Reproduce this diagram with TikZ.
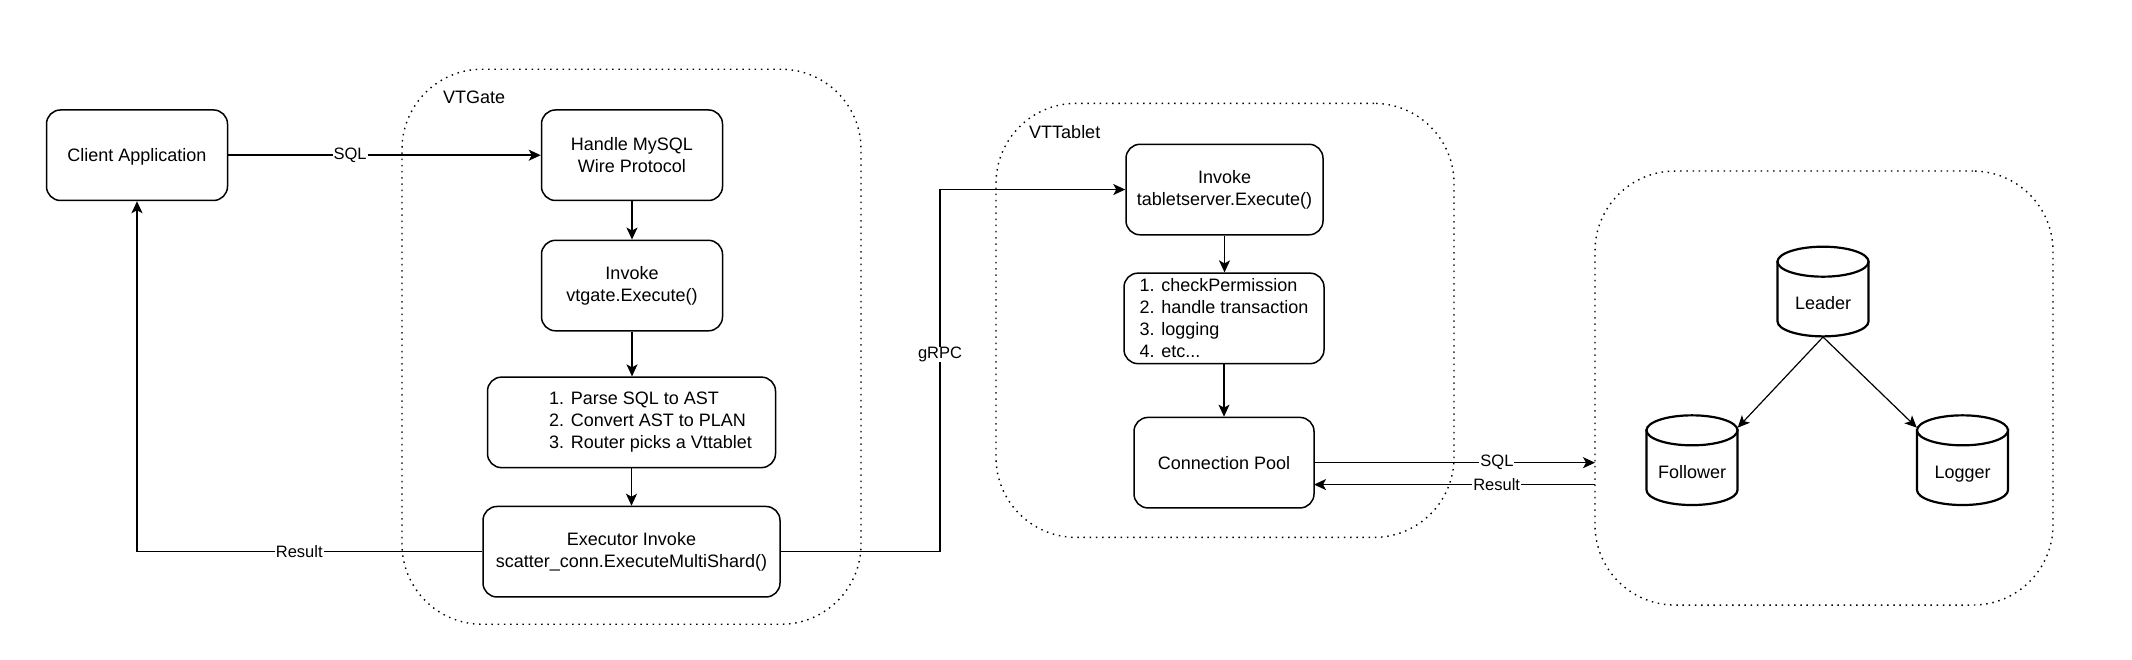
\documentclass[tikz,border=0pt]{standalone}
\usepackage{fontspec}
\setmainfont{Liberation Sans}
\usetikzlibrary{arrows.meta,calc}
\tikzset{
  x=1pt,y=-0.995pt,
  every node/.style={font=\fontsize{18}{22}\selectfont},
  stepbox/.style={draw=black,line width=1.5pt,rounded corners=14pt,align=center,inner sep=0pt,fill=white,minimum height=90.5pt},
  groupbox/.style={draw=black,line width=1.4pt,rounded corners=80pt,inner sep=0pt,dash pattern=on 1.5pt off 4.7pt},
  dbcyl/.style={minimum width=91pt,minimum height=90.5pt,inner sep=0pt,align=center},
  cylline/.style={draw=black,line width=2.2pt,fill=white},
  link/.style={draw=black,line width=1.5pt,-{Stealth[length=12pt,width=11pt,inset=3pt]}},
  thinlink/.style={draw=black,line width=1.2pt,-{Stealth[length=12pt,width=11pt,inset=3pt]}},
  edgelabel/.style={font=\fontsize{16.5}{20}\selectfont,fill=white,inner xsep=1pt,inner ysep=0pt},
  grouptitle/.style={anchor=west,inner sep=0pt}
}
\newcommand{\pad}{\hspace*{38pt}}
\newcommand{\dblabel}[1]{\raisebox{-18pt}[0pt][0pt]{#1}}
\begin{document}
\begin{tikzpicture}
\useasboundingbox (0,0) rectangle (2132,663.3);
% groups
\node[groupbox,minimum width=459pt,minimum height=555pt] (gate) at (631.5,348.5) {};
\node[groupbox,minimum width=458pt,minimum height=434pt] (tablet) at (1225,322) {};
\node[groupbox,minimum width=458pt,minimum height=434pt] (store) at (1824,390) {};
\node[grouptitle] (gatetitle) at (443,98) {VTGate};
\node[grouptitle] (tablettitle) at (1029,133) {VTTablet};
% boxes
\node[stepbox,minimum width=181pt,text height=12pt,text depth=0pt] (client) at (137,156) {Client Application};
\node[stepbox,minimum width=181pt] (handle) at (632,156) {Handle MySQL\\Wire Protocol};
\node[stepbox,minimum width=181pt] (invoke) at (632,287) {Invoke\\vtgate.Execute()};
\node[stepbox,minimum width=288pt,align=left] (parse) at (631.5,424.5) {\pad 1. Parse SQL to AST\\\pad 2. Convert AST to PLAN\\\pad 3. Router picks a Vttablet};
\node[stepbox,minimum width=297pt] (exec) at (631.5,554.5) {Executor Invoke\\scatter\_conn.ExecuteMultiShard()};
\node[stepbox,minimum width=197pt] (tinvoke) at (1224.5,190.5) {Invoke\\tabletserver.Execute()};
\node[stepbox,minimum width=200pt,align=left] (checks) at (1224,320) {1. checkPermission\\2. handle transaction\\3. logging\\4. etc...};
\node[stepbox,minimum width=180pt] (pool) at (1224,465) {Connection Pool};
% databases
\foreach \n/\px/\py in {leader/1823/293,follower/1692/462.5,logger/1962.5/462.5}{
  \path[cylline] ($(\px,\py)+(-45.5,-30)$) -- ($(\px,\py)+(-45.5,30)$) arc[start angle=180,end angle=360,x radius=45.5pt,y radius=15pt] -- ($(\px,\py)+(45.5,-30)$) -- cycle;
  \draw[cylline] ($(\px,\py)+(0,-30)$) ellipse[x radius=45.5pt,y radius=15pt];
}
\node[dbcyl] (leader) at (1823,293) {\dblabel{Leader}};
\node[dbcyl] (follower) at (1692,462.5) {\dblabel{Follower}};
\node[dbcyl] (logger) at (1962.5,462.5) {\dblabel{Logger}};
% free ends and bends
\coordinate (sqlend) at (1595,465);
\coordinate (resstart) at (1595,487);
\coordinate (resend) at (1314,487);
\coordinate (grpcbend) at (940,554.5);
\coordinate (grpctop) at (940,190.5);
\coordinate (followerin) at ($(follower.north east)+(0,13)$);
\coordinate (loggerin) at ($(logger.north west)+(0,13)$);
% connectors
\draw[link] (client.east) -- node[edgelabel,pos=.39] {SQL} (handle.west);
\draw[link] (handle.south) -- (invoke.north);
\draw[link] (invoke.south) -- (invoke.south |- parse.north);
\draw[link] (parse.south) -- (parse.south |- exec.north);
\draw[link] (exec.west) -- node[edgelabel,pos=.53] {Result} (exec.west -| client.south) -- (client.south);
\draw[link] (exec.east) -- (grpcbend) -- node[edgelabel,pos=.545] {gRPC} (grpctop) -- (tinvoke.west);
\draw[link] (tinvoke.south) -- (tinvoke.south |- checks.north);
\draw[link] (checks.south) -- (checks.south |- pool.north);
\draw[link] (pool.east) -- node[edgelabel,pos=.65] {SQL} (sqlend);
\draw[link] (resstart) -- node[edgelabel,pos=.35] {Result} (resend);
\draw[thinlink] (leader.south) -- (followerin);
\draw[thinlink] (leader.south) -- (loggerin);
\end{tikzpicture}
\end{document}
